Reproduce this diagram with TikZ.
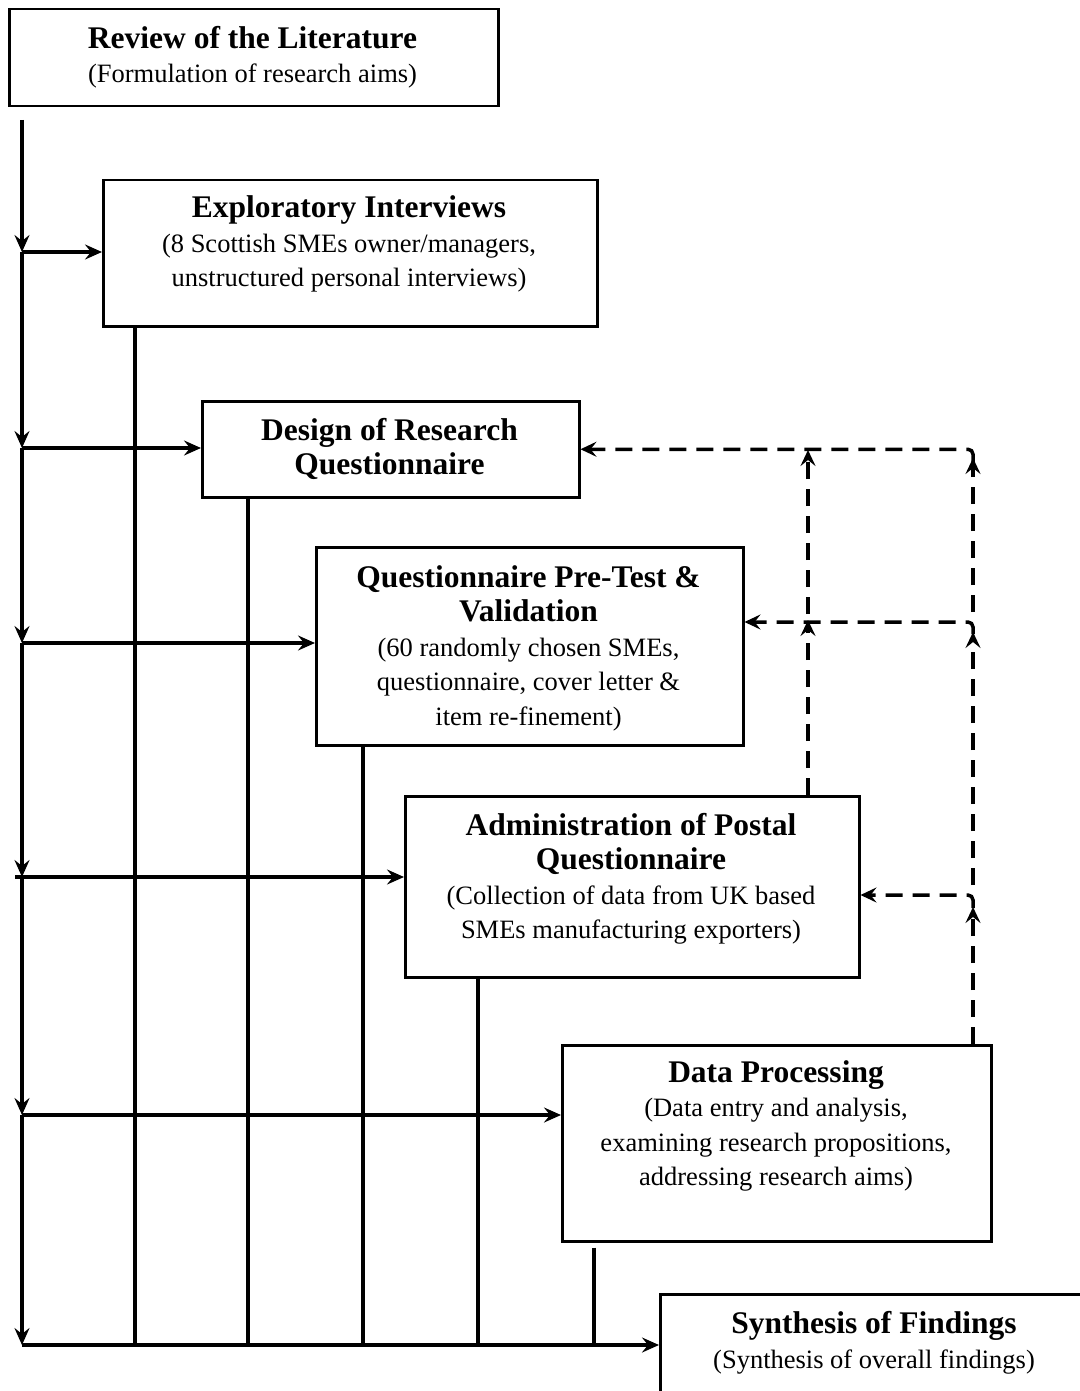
\documentclass[tikz,border=0pt]{standalone}
\usepackage{fontspec}
\setmainfont{Liberation Serif}
\usetikzlibrary{arrows.meta,calc}
\newcommand\hd{\fontsize{31.5}{34.5}\selectfont\bfseries}
\newcommand\bd{\fontsize{26.5}{34.5}\selectfont}
\begin{document}
\begin{tikzpicture}[x=1pt,y=-1pt,
  box/.style={draw,line width=2.5pt,anchor=north west,inner sep=0pt},
  txt/.style={align=center,inner sep=0pt,font=\bd},
  ln/.style={line width=3.5pt},
  arr/.style={ln,-{Stealth[length=17pt,width=15pt,inset=6pt]}},
  darr/.style={ln,-{Stealth[length=17pt,width=15pt,inset=6pt]}},
  dsh/.style={line width=3.5pt,dash pattern=on 17pt off 10pt,-{Stealth[length=16pt,width=15pt,inset=6pt]}}]
\useasboundingbox (0,0) rectangle (1079,1391);
% boxes
\node[box,minimum width=489pt,minimum height=97pt] (lit) at (8,8) {};
\node[txt] (litt) at (252.5,57) {{\hd Review of the Literature}\\(Formulation of research aims)};
\node[box,minimum width=494pt,minimum height=146pt] (exp) at (102,179) {};
\node[txt] (expt) at (349,244) {{\hd Exploratory Interviews}\\(8 Scottish SMEs owner/managers,\\unstructured personal interviews)};
\node[box,minimum width=377pt,minimum height=96pt] (des) at (201,400) {};
\node[txt] (dest) at (389.5,449) {\hd Design of Research\\\hd Questionnaire};
\node[box,minimum width=427pt,minimum height=198pt] (pre) at (315,546) {};
\node[txt] (pret) at (528.5,648) {\hd Questionnaire Pre-Test \&\\\hd Validation\\(60 randomly chosen SMEs,\\questionnaire, cover letter \&\\item re-finement)};
\node[box,minimum width=454pt,minimum height=181pt] (adm) at (404,795) {};
\node[txt] (admt) at (631,879) {\hd Administration of Postal\\\hd Questionnaire\\(Collection of data from UK based\\SMEs manufacturing exporters)};
\node[box,minimum width=429pt,minimum height=196pt] (dp) at (561,1044) {};
\node[txt] (dpt) at (776,1126) {{\hd Data Processing}\\(Data entry and analysis,\\examining research propositions,\\addressing research aims)};
\node[box,minimum width=460pt,minimum height=130pt] (syn) at (659,1293) {};
\node[txt] (synt) at (874,1343) {{\hd Synthesis of Findings}\\(Synthesis of overall findings)};
% trunk
\coordinate (t0) at (22,120);
\coordinate (b1) at (22,252);
\coordinate (b2) at (22,448);
\coordinate (b3) at (22,643);
\coordinate (b4) at (22,877);
\coordinate (b5) at (22,1115);
\coordinate (b6) at (22,1345);
\draw[darr] (t0) -- (b1);
\draw[darr] (b1) -- (b2);
\draw[darr] (b2) -- (b3);
\draw[darr] (b3) -- (b4);
\draw[darr] (b4) -- (b5);
\draw[darr] (b5) -- (b6);
\draw[arr] (b1) -- (exp.west |- b1);
\draw[arr] (b2) -- (des.west |- b2);
\draw[arr] (b3) -- (pre.west |- b3);
\draw[arr] ($(b4)+(-7,0)$) -- (adm.west |- b4);
\draw[arr] (b5) -- (dp.west |- b5);
\draw[arr] (b6) -- (syn.west |- b6);
% feeders
\draw[ln] (exp.south west -| 135,0) -- (135,1345);
\draw[ln] (des.south west -| 248,0) -- (248,1345);
\draw[ln] (pre.south west -| 363,0) -- (363,1345);
\draw[ln] (adm.south west -| 478,0) -- (478,1345);
\draw[ln] ($(dp.south west -| 594,0)+(0,5)$) -- (594,1345);
% dashed feedback
\draw[dsh] (adm.north -| 808,0) -- (808,620);
\draw[dsh] (808,614) -- (808,450);
\draw[dsh] (dp.north -| 973,0) -- (973,907);
\draw[dsh] (973,885) -- (973,632);
\draw[dsh] (973,612) -- (973,458);
\draw[dsh,rounded corners=5pt] (973,462) |- (des.east);
\draw[dsh,rounded corners=5pt] (973,634) |- (pre.east |- 0,622);
\draw[dsh,rounded corners=5pt] (973,908) |- (adm.east |- 0,895);
\end{tikzpicture}
\end{document}
